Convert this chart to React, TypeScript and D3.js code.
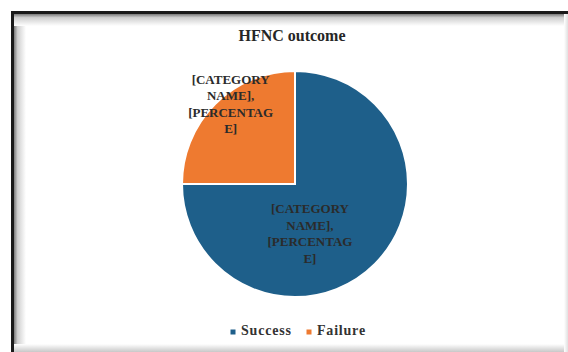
import React from "react";
import * as d3 from "d3";

const categories = ["Success", "Failure"];
const values = [75, 25];
const labelLines = ["[CATEGORY", "NAME],", "[PERCENTAG", "E]"];
const title = "HFNC outcome";

const W = 568;
const H = 352;
const colors = ["#1e5f8a", "#ee7a30"];
const cx = 295;
const cy = 184;
const R = 113;
// label placement (angle shift in radians, radius fraction)
const labelAngleShift = [0.5, 0.1];
const labelRadiusFrac = [0.47, 0.9];

export default function App() {
  const pie = d3.pie<number>().sort(null).value((d) => d)(values);
  const arc = d3.arc<d3.PieArcDatum<number>>().innerRadius(0).outerRadius(R);
  const font = "Liberation Serif, DejaVu Serif, Times New Roman, serif";

  const legendItems = categories.map((c, i) => ({ c, i }));
  const legendX = [233, 309];

  return (
    <div style={{ position: "absolute", left: 0, top: 0, width: W, height: H }}>
      <svg width={W} height={H} style={{ display: "block" }}>
        <defs>
          <linearGradient id="shL" x1="0" x2="1" y1="0" y2="0">
            <stop offset="0" stopColor="#7a7a7a" />
            <stop offset="0.3" stopColor="#cfcfcf" />
            <stop offset="1" stopColor="#ffffff" />
          </linearGradient>
          <linearGradient id="shT" x1="0" x2="0" y1="0" y2="1">
            <stop offset="0" stopColor="#7a7a7a" />
            <stop offset="0.3" stopColor="#cfcfcf" />
            <stop offset="1" stopColor="#ffffff" />
          </linearGradient>
          <linearGradient id="shB" x1="0" x2="0" y1="0" y2="1">
            <stop offset="0" stopColor="#ffffff" />
            <stop offset="1" stopColor="#c8c8c8" />
          </linearGradient>
          <linearGradient id="shR" x1="0" x2="1" y1="0" y2="0">
            <stop offset="0" stopColor="#ffffff" />
            <stop offset="1" stopColor="#e0e0e0" />
          </linearGradient>
        </defs>
        <rect x={0} y={0} width={W} height={H} fill="#ffffff" />
        {/* frame with inner shadow */}
        <rect x={14} y={14} width={12} height={H - 14} fill="url(#shL)" />
        <rect x={14} y={14} width={W - 14} height={12} fill="url(#shT)" />
        <rect x={14} y={H - 8} width={W - 14} height={8} fill="url(#shB)" />
        <rect x={W - 4} y={14} width={4} height={H - 14} fill="url(#shR)" />
        <rect x={11} y={11} width={3} height={H - 11} fill="#1a1a1a" />
        <rect x={11} y={11} width={W - 11} height={3} fill="#1a1a1a" />

        <text
          x={cx - 3}
          y={41}
          textAnchor="middle"
          fontFamily={font}
          fontWeight="bold"
          fontSize={16}
          fill="#262626"
        >
          {title}
        </text>

        <g transform={`translate(${cx},${cy})`}>
          {pie.map((p, i) => (
            <path key={i} d={arc(p) || ""} fill={colors[i]} stroke="#ffffff" strokeWidth={2} />
          ))}
          {pie.map((p, i) => {
            const mid = (p.startAngle + p.endAngle) / 2 + labelAngleShift[i];
            const [lx, ly] = d3.pointRadial(mid, R * labelRadiusFrac[i]);
            const lh = 16.5;
            const y0 = ly - (lh * (labelLines.length - 1)) / 2;
            return (
              <text
                key={"l" + i}
                textAnchor="middle"
                fontFamily={font}
                fontWeight="bold"
                fontSize={13}
                fill="#2b2b2b"
                dominantBaseline="middle"
              >
                {labelLines.map((t, k) => (
                  <tspan key={k} x={lx} y={y0 + k * lh}>
                    {t}
                  </tspan>
                ))}
              </text>
            );
          })}
        </g>

        {legendItems.map(({ c, i }) => (
          <g key={c} transform={`translate(${legendX[i]},332)`}>
            <rect x={-2.5} y={-2.5} width={5} height={5} fill={colors[i]} />
            <text
              x={8}
              y={0}
              dominantBaseline="middle"
              fontFamily={font}
              fontWeight="bold"
              fontSize={14}
              letterSpacing={0.8}
              fill="#333333"
            >
              {c}
            </text>
          </g>
        ))}
      </svg>
    </div>
  );
}
